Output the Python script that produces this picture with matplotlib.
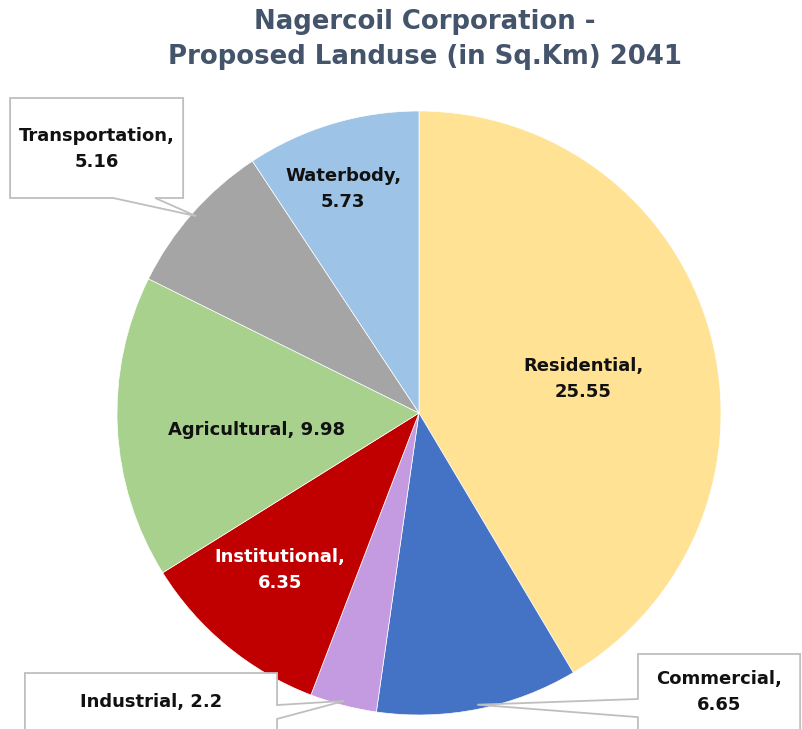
import numpy as np
import matplotlib.pyplot as plt
from matplotlib.patches import Polygon

# data
categories = ['Residential', 'Commercial', 'Industrial', 'Institutional',
              'Agricultural', 'Transportation', 'Waterbody']
values = [25.55, 6.65, 2.2, 6.35, 9.98, 5.16, 5.73]
value_text = ['25.55', '6.65', '2.2', '6.35', '9.98', '5.16', '5.73']
colors = ['#FFE293', '#4472C4', '#C49BE0', '#C00000', '#A9D18E', '#A5A5A5', '#9DC3E6']

title_lines = ['Nagercoil Corporation -', 'Proposed Landuse (in Sq.Km) 2041']

plt.rcParams['font.family'] = ['DejaVu Sans']

fig = plt.figure(figsize=(8.03, 7.29), dpi=100)
ax = fig.add_axes([0, 0, 1, 1])

wedges, _ = ax.pie(values, colors=colors, startangle=90, counterclock=False,
                   radius=1.0, wedgeprops=dict(linewidth=0.5, edgecolor='white'))

# pie centre at (419, 413) px from top-left, radius 302 px
ax.set_xlim(-419 / 302, (803 - 419) / 302)
ax.set_ylim(-316 / 302, 413 / 302)
ax.set_aspect('equal')
ax.axis('off')

def mid_angle(w, shift=0.0):
    return np.deg2rad((w.theta1 + w.theta2) / 2 + shift)

# labels inside the slices: (radius fraction, angle shift, text colour, lines)
inside = {
    'Residential': (0.555, -3.7, '#111111', 2),
    'Waterbody': (0.783, 2.0, '#111111', 2),
    'Agricultural': (0.54, 3.2, '#111111', 1),
    'Institutional': (0.694, -2.0, 'white', 2),
}
for w, cat, vt in zip(wedges, categories, value_text):
    if cat not in inside:
        continue
    r, sh, c, nl = inside[cat]
    a = mid_angle(w, sh)
    sep = '\n' if nl == 2 else ' '
    ax.text(r * np.cos(a), r * np.sin(a), f'{cat},{sep}{vt}', ha='center', va='center',
            fontsize=13, fontweight='bold', color=c, linespacing=1.6)

# callout boxes: box (x0, y0, x1, y1), side of pointer, pointer base, text y, lines
callouts = {
    'Transportation': ((-1.354, 0.712, -0.781, 1.043), 'bottom', (-1.013, -0.874), 0.874, 2),
    'Industrial': ((-1.305, -1.10, -0.470, -0.861), 'right', (-0.967, -1.013), -0.957, 1),
    'Commercial': ((0.725, -1.10, 1.262, -0.798), 'left', (-0.947, -1.007), -0.924, 2),
}

def callout_poly(box, side, base, tip):
    x0, y0, x1, y1 = box
    a, b = base
    if side == 'bottom':
        return [(x0, y1), (x1, y1), (x1, y0), (b, y0), tip, (a, y0), (x0, y0)]
    if side == 'right':
        return [(x0, y1), (x1, y1), (x1, a), tip, (x1, b), (x1, y0), (x0, y0)]
    return [(x0, y1), (x1, y1), (x1, y0), (x0, y0), (x0, b), tip, (x0, a)]

for w, cat, vt in zip(wedges, categories, value_text):
    if cat not in callouts:
        continue
    box, side, base, ty, nl = callouts[cat]
    a = mid_angle(w)
    tip = (0.985 * np.cos(a), 0.985 * np.sin(a))
    poly = Polygon(callout_poly(box, side, base, tip), closed=True, facecolor='white',
                   edgecolor='#BFBFBF', linewidth=1.3, zorder=3)
    ax.add_patch(poly)
    sep = '\n' if nl == 2 else ' '
    ax.text((box[0] + box[2]) / 2, ty, f'{cat},{sep}{vt}', ha='center', va='center',
            fontsize=13, fontweight='bold', color='#111111', linespacing=1.6, zorder=4)

fig.text(0.529, 0.946, '\n'.join(title_lines), ha='center', va='center', fontsize=18.7,
         fontweight='bold', color='#44546A', linespacing=1.45)

fig.savefig('out.png', dpi=100)
